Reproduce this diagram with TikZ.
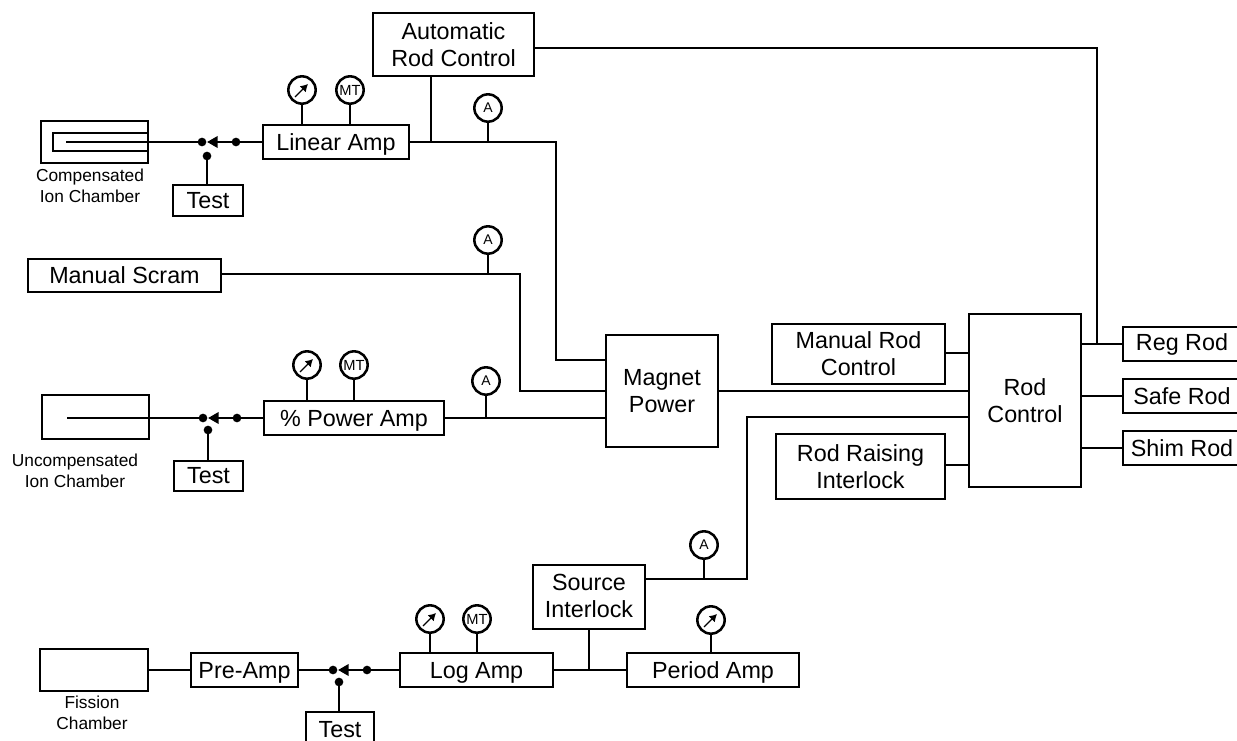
\documentclass[tikz,border=0pt]{standalone}
\usepackage{fontspec}
\setmainfont{Liberation Sans}
\usetikzlibrary{arrows.meta}
\newcommand{\bigtext}{\fontsize{17.5}{20.4}\selectfont}
\newcommand{\smalltext}{\fontsize{13}{15.5}\selectfont}
\tikzset{
  wire/.style={line width=1.95pt,line cap=butt},
  arrowwire/.style={wire,-{Triangle[length=8pt,width=8.5pt]},shorten >=0pt},
  boxn/.style={draw,line width=2pt,inner sep=0pt,outer sep=0pt,align=center,font=\bigtext,fill=white},
  capn/.style={inner sep=0pt,align=center,font=\smalltext},
  gauge/.style={draw,circle,line width=1.9pt,minimum size=20.5pt,inner sep=0pt,outer sep=0pt,fill=white},
  swdot/.style={circle,fill=black,minimum size=6.5pt,inner sep=0pt,outer sep=0pt},
}
% [options], name, x1, y1, x2, y2, text
\newcommand{\bx}[7][]{\node[boxn,minimum width={(#5-#3)*0.75pt},minimum height={(#6-#4)*0.75pt},#1] (#2) at ({(#3+#5)/2},{(#4+#6)/2}) {#7};}
\newcommand{\gneedle}[3]{\node[gauge] (#1) at (#2,#3) {};
  \draw[line width=0.9pt,-{Latex[length=5.5pt,width=6.5pt]}] (#2-7,#3+7) -- (#2+6,#3-6);}
\newcommand{\gmt}[3]{\node[gauge,font=\fontsize{11}{11}\selectfont] (#1) at (#2,#3) {MT};}
\newcommand{\gamp}[3]{\node[gauge,font=\fontsize{10.5}{10.5}\selectfont] (#1) at (#2,#3) {A};}
\begin{document}
\begin{tikzpicture}[x=0.75pt,y=-0.75pt]
\useasboundingbox (0,0) rectangle (1237,741);
% main boxes
\bx{auto}{373}{13}{534}{76}{Automatic\\Rod Control}
\bx[text depth=0pt]{linamp}{263}{125}{409}{159}{Linear Amp}
\bx{compch}{41}{121}{148}{163}{}
\bx{compin}{53}{133}{148}{151}{}
\bx{testa}{173}{185}{243}{216}{Test}
\bx{scram}{28}{259}{221}{292}{Manual Scram}
\bx[text depth=-2pt]{magnet}{606}{335}{718}{447}{Magnet\\Power}
\bx[text depth=0pt]{pctamp}{264}{401}{444}{435}{\% Power Amp}
\bx{uncomp}{42}{395}{149}{439}{}
\bx{testb}{174}{461}{243}{491}{Test}
\bx{fission}{40}{649}{148}{691}{}
\bx[text depth=0pt]{preamp}{191}{653}{298}{687}{Pre-Amp}
\bx{testc}{306}{712}{374}{748}{Test}
\bx[text depth=0pt]{logamp}{400}{653}{553}{687}{Log Amp}
\bx[text depth=0pt]{period}{627}{653}{799}{687}{Period Amp}
\bx[text depth=1.5pt]{source}{533}{565}{645}{629}{Source\\Interlock}
\bx{rodctl}{969}{314}{1081}{487}{Rod\\Control}
\bx{manrod}{772}{324}{945}{384}{Manual Rod\\Control}
\bx{raise}{776}{434}{945}{499}{Rod Raising\\Interlock}
\bx{reg}{1123}{327}{1241}{361}{Reg Rod}
\bx{safe}{1123}{379}{1241}{413}{Safe Rod}
\bx{shim}{1123}{431}{1241}{465}{Shim Rod}
% captions
\node[capn] (capa) at (90,186) {Compensated\\Ion Chamber};
\node[capn] (capb) at (75,471) {Uncompensated\\Ion Chamber};
\node[capn] (capc) at (92,713) {Fission\\Chamber};
% gauges
\gneedle{g1}{302}{90}
\gmt{m1}{350}{90}
\gamp{a1}{488}{108}
\gamp{a2}{488}{240}
\gneedle{g2}{307}{365}
\gmt{m2}{354}{365}
\gamp{a3}{486}{381}
\gneedle{g3}{430}{619}
\gmt{m3}{477}{619}
\gamp{a4}{704}{545}
\gneedle{g4}{711}{620}
% switch contacts
\node[swdot] (s1l) at (202,142) {};
\node[swdot] (s1r) at (236,142) {};
\node[swdot] (s1t) at (207,156) {};
\node[swdot] (s2l) at (203,418) {};
\node[swdot] (s2r) at (237,418) {};
\node[swdot] (s2t) at (208,430) {};
\node[swdot] (s3l) at (333,670) {};
\node[swdot] (s3r) at (367,670) {};
\node[swdot] (s3t) at (339,682) {};
\coordinate (t1) at (207,142);
\coordinate (t2) at (208,418);
\coordinate (t3) at (338,670);
\coordinate (c1) at (66,142);
\coordinate (c2) at (67,418);
% chamber and switch wiring
\draw[wire] (c1) -- (s1l);
\draw[arrowwire] (s1r) -- (t1);
\draw[wire] (s1r) -- (s1r -| linamp.west);
\draw[wire] (s1t) -- (s1t |- testa.north);
\draw[wire] (c2) -- (s2l);
\draw[arrowwire] (s2r) -- (t2);
\draw[wire] (s2r) -- (s2r -| pctamp.west);
\draw[wire] (s2t) -- (s2t |- testb.north);
\draw[wire] (fission.east |- preamp.west) -- (preamp.west);
\draw[wire] (preamp.east) -- (s3l);
\draw[arrowwire] (s3r) -- (t3);
\draw[wire] (s3r) -- (s3r -| logamp.west);
\draw[wire] (s3t) -- (s3t |- testc.north);
% gauges to boxes
\draw[wire] (g1) -- (g1 |- linamp.north);
\draw[wire] (m1) -- (m1 |- linamp.north);
\draw[wire] (g2) -- (g2 |- pctamp.north);
\draw[wire] (m2) -- (m2 |- pctamp.north);
\draw[wire] (g3) -- (g3 |- logamp.north);
\draw[wire] (m3) -- (m3 |- logamp.north);
\draw[wire] (g4) -- (g4 |- period.north);
% upper trunk
\coordinate (j1) at (556,142);
\coordinate (j1b) at (556,360);
\coordinate (autod) at (431,76);
\draw[wire] (linamp.east) -- (j1) -- (j1b) -- (j1b -| magnet.west);
\draw[wire] (autod) -- (autod |- linamp.east);
\draw[wire] (a1.south) -- (a1.south |- linamp.east);
% manual scram
\coordinate (j2) at (520,274);
\coordinate (j2b) at (520,391);
\draw[wire] (scram.east |- j2) -- (j2) -- (j2b) -- (j2b -| magnet.west);
\draw[wire] (a2.south) -- (a2.south |- j2);
% power amp
\draw[wire] (pctamp.east) -- (pctamp.east -| magnet.west);
\draw[wire] (a3.south) -- (a3.south |- pctamp.east);
% log amp / period / source
\draw[wire] (logamp.east) -- (period.west |- logamp.east);
\draw[wire] (source.south) -- (source.south |- logamp.east);
\coordinate (j3) at (747,579);
\coordinate (j3b) at (747,417);
\draw[wire] (source.east |- j3) -- (j3) -- (j3b) -- (j3b -| rodctl.west);
\draw[wire] (a4.south) -- (a4.south |- j3);
% to rod control
\draw[wire] (magnet.east |- 0,391) -- (rodctl.west |- 0,391);
\draw[wire] (manrod.east |- 0,353) -- (rodctl.west |- 0,353);
\draw[wire] (raise.east |- 0,465) -- (rodctl.west |- 0,465);
% automatic rod control to reg rod
\coordinate (j4) at (1097,48);
\coordinate (j4b) at (1097,344);
\draw[wire] (auto.east |- j4) -- (j4) -- (j4b);
\draw[wire] (rodctl.east |- reg.west) -- (reg.west);
\draw[wire] (rodctl.east |- safe.west) -- (safe.west);
\draw[wire] (rodctl.east |- shim.west) -- (shim.west);
\end{tikzpicture}
\end{document}
